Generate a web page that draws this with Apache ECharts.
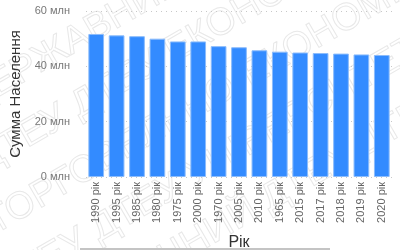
<!DOCTYPE html>
<html>
<head>
<meta charset="utf-8">
<script src="https://cdn.jsdelivr.net/npm/echarts@6/dist/echarts.min.js"></script>
<style>
  html, body { margin: 0; padding: 0; background: #fff; }
  #chart { width: 400px; height: 250px; }
</style>
</head>
<body>
<div id="chart"></div>
<script>
// роки, відсортовані за населенням (спадання)
const years = ["1990 рік", "1995 рік", "1985 рік", "1980 рік", "1975 рік", "2000 рік", "1970 рік", "2005 рік",
  "2010 рік", "1965 рік", "2015 рік", "2017 рік", "2018 рік", "2019 рік", "2020 рік"];
// населення, млн
const population = [51.7, 51.2, 50.9, 50.0, 49.0, 49.0, 47.3, 46.9, 45.8, 45.3, 45.0, 44.8, 44.6, 44.3, 44.1];
const yTicks = [0, 20, 40, 60];

const watermarkLines = [
  "ДЕРЖАВНИЙ ДТЕУ ДТЕУ",
  "ДТЕУ ДТЕУ ЕКОНОМІЧНИЙ",
  "ТОРГОВЕЛЬНО-ЕКОНОМІЧНИЙ",
  "ДТЕУ ДТЕУ УНІВЕРСИТЕТ",
  "ЕКОНОМІЧНИЙ ДТЕУ ДТЕУ"
];

const font = "'Liberation Sans', Arial, sans-serif";

// водяний знак — просто декор на фоні
const watermark = watermarkLines.map((t, i) => ({
  type: "text",
  z: -10,
  x: -40 + i * 10,
  y: 85 + i * 62,
  rotation: Math.PI / 6,
  silent: true,
  style: {
    text: t,
    font: "38px " + font,
    fill: "none",
    stroke: "#e8e8e8",
    lineWidth: 1
  }
}));

const chart = echarts.init(document.getElementById("chart"), null, { renderer: "canvas" });
chart.setOption({
  animation: false,
  grid: {
    left: 86,
    right: 8,
    top: 11,
    bottom: 73,
    containLabel: false,
    outerBoundsMode: "none"
  },
  graphic: watermark.concat([
    {
      type: "rect",
      shape: { x: 80, y: 248, width: 250, height: 2 },
      style: { fill: "#c4c4c4" },
      silent: true
    }
  ]),
  xAxis: {
    type: "category",
    data: years,
    name: "Рік",
    nameLocation: "middle",
    nameGap: 58,
    nameTextStyle: { fontSize: 16, color: "#333", fontFamily: font },
    axisLine: { show: false },
    axisTick: { show: false },
    axisLabel: {
      rotate: 90,
      interval: 0,
      margin: 5,
      fontSize: 11,
      color: "#666",
      fontFamily: font
    }
  },
  yAxis: {
    type: "value",
    min: yTicks[0],
    max: yTicks[yTicks.length - 1],
    interval: 20,
    name: "Сумма Населення",
    nameLocation: "middle",
    nameGap: 56,
    nameTextStyle: { fontSize: 15, color: "#333", fontFamily: font },
    axisLine: { show: false },
    axisTick: { show: false },
    axisLabel: {
      margin: 16,
      fontSize: 11,
      color: "#777",
      fontFamily: font,
      formatter: v => v + " млн"
    },
    splitLine: {
      lineStyle: {
        color: "#c8c8c8",
        type: [1, 4],
        width: 1
      }
    }
  },
  series: [
    {
      type: "bar",
      data: population,
      barCategoryGap: "23%",
      itemStyle: {
        color: "#338bff",
        borderColor: "#8cbcfb",
        borderWidth: 1
      }
    }
  ]
});
</script>
</body>
</html>
